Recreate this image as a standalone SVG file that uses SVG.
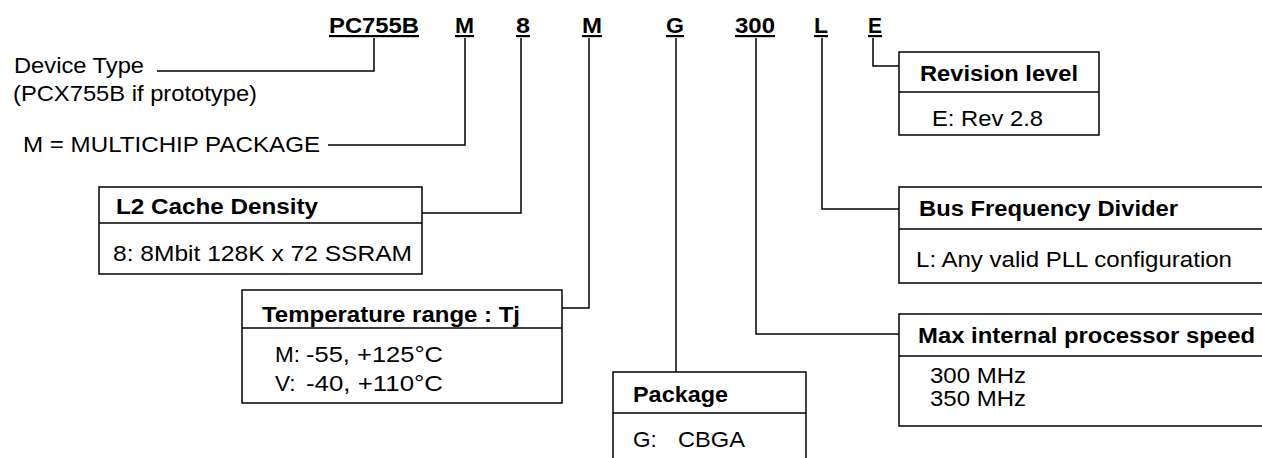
<svg xmlns="http://www.w3.org/2000/svg" width="1262" height="458" viewBox="0 0 1262 458">
<style>
text{font-family:"Liberation Sans",Arial,sans-serif;fill:#000}
.code{font-size:22px;font-weight:bold;text-decoration:underline}
.lbl{font-size:22.5px}
.ttl{font-size:22.5px;font-weight:bold}
.box{fill:#fff;stroke:#000;stroke-width:1.5}
.div{stroke:#000;stroke-width:1.5}
.con{fill:none;stroke:#000;stroke-width:1.5}
</style>
<rect width="1262" height="458" fill="#fff"/>
<g id="codes">
<text class="code" x="329" y="33" textLength="90" lengthAdjust="spacingAndGlyphs">PC755B</text>
<text class="code" x="455" y="33" textLength="19" lengthAdjust="spacingAndGlyphs">M</text>
<text class="code" x="516" y="33" textLength="14" lengthAdjust="spacingAndGlyphs">8</text>
<text class="code" x="582" y="33" textLength="20" lengthAdjust="spacingAndGlyphs">M</text>
<text class="code" x="666" y="33" textLength="18" lengthAdjust="spacingAndGlyphs">G</text>
<text class="code" x="735" y="33" textLength="40" lengthAdjust="spacingAndGlyphs">300</text>
<text class="code" x="814" y="33" textLength="14" lengthAdjust="spacingAndGlyphs">L</text>
<text class="code" x="868" y="33" textLength="14" lengthAdjust="spacingAndGlyphs">E</text>
</g>
<g id="connectors">
<path class="con" d="M374,38 V71 H157"/>
<path class="con" d="M465,38 V145 H328"/>
<path class="con" d="M521,38 V213 H422"/>
<path class="con" d="M589,38 V308 H562"/>
<path class="con" d="M676,38 V372"/>
<path class="con" d="M756,38 V334 H899"/>
<path class="con" d="M822,38 V209 H899"/>
<path class="con" d="M873,38 V66 H899"/>
</g>
<g id="device-type">
<text class="lbl" x="14" y="73" textLength="130" lengthAdjust="spacingAndGlyphs">Device Type</text>
<text class="lbl" x="13" y="101" textLength="244" lengthAdjust="spacingAndGlyphs">(PCX755B if prototype)</text>
</g>
<g id="multichip">
<text class="lbl" x="23" y="152" textLength="297" lengthAdjust="spacingAndGlyphs">M = MULTICHIP PACKAGE</text>
</g>
<g id="l2-cache">
<rect class="box" x="99" y="187" width="323" height="87"/>
<line class="div" x1="99" y1="223" x2="422" y2="223"/>
<text class="ttl" x="116" y="214" textLength="202" lengthAdjust="spacingAndGlyphs">L2 Cache Density</text>
<text class="lbl" x="113" y="261" textLength="299" lengthAdjust="spacingAndGlyphs">8: 8Mbit 128K x 72 SSRAM</text>
</g>
<g id="temperature">
<rect class="box" x="242" y="290" width="320" height="113"/>
<line class="div" x1="242" y1="328" x2="562" y2="328"/>
<text class="ttl" x="262" y="322" textLength="258" lengthAdjust="spacingAndGlyphs">Temperature range : Tj</text>
<text class="lbl" x="275" y="362">M:<tspan x="306" textLength="137" lengthAdjust="spacingAndGlyphs">-55, +125°C</tspan></text>
<text class="lbl" x="275" y="391">V:<tspan x="306" textLength="137" lengthAdjust="spacingAndGlyphs">-40, +110°C</tspan></text>
</g>
<g id="package">
<rect class="box" x="613" y="372" width="193" height="100"/>
<line class="div" x1="613" y1="413" x2="806" y2="413"/>
<text class="ttl" x="633" y="402" textLength="95" lengthAdjust="spacingAndGlyphs">Package</text>
<text class="lbl" x="633" y="447">G:<tspan x="678" textLength="67" lengthAdjust="spacingAndGlyphs">CBGA</tspan></text>
</g>
<g id="revision">
<rect class="box" x="899" y="52" width="200" height="83"/>
<line class="div" x1="899" y1="92" x2="1099" y2="92"/>
<text class="ttl" x="920" y="81" textLength="158" lengthAdjust="spacingAndGlyphs">Revision level</text>
<text class="lbl" x="932" y="126" textLength="111" lengthAdjust="spacingAndGlyphs">E: Rev 2.8</text>
</g>
<g id="bus-frequency">
<rect class="box" x="899" y="187" width="400" height="96"/>
<line class="div" x1="899" y1="229" x2="1299" y2="229"/>
<text class="ttl" x="919" y="216" textLength="259" lengthAdjust="spacingAndGlyphs">Bus Frequency Divider</text>
<text class="lbl" x="916" y="267" textLength="316" lengthAdjust="spacingAndGlyphs">L: Any valid PLL configuration</text>
</g>
<g id="max-speed">
<rect class="box" x="899" y="314" width="400" height="112"/>
<line class="div" x1="899" y1="356" x2="1299" y2="356"/>
<text class="ttl" x="918" y="343" textLength="337" lengthAdjust="spacingAndGlyphs">Max internal processor speed</text>
<text class="lbl" x="930" y="383" textLength="96" lengthAdjust="spacingAndGlyphs">300 MHz</text>
<text class="lbl" x="930" y="406" textLength="96" lengthAdjust="spacingAndGlyphs">350 MHz</text>
</g>
</svg>
